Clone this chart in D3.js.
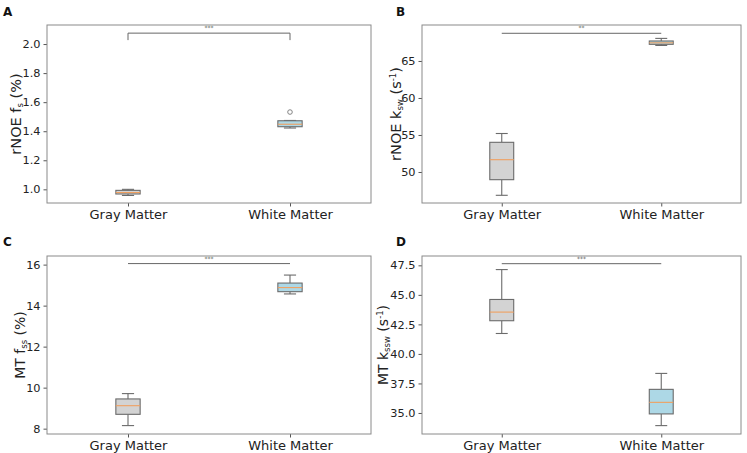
<!DOCTYPE html>
<html><head><meta charset="utf-8">
<script src="https://cdn.jsdelivr.net/npm/d3@7"></script>
<style>body{margin:0;background:#fff}svg{display:block}text{font-family:"DejaVu Sans",sans-serif}</style>
</head><body><svg id="c" width="747" height="453"></svg>
<script>
// ---- data ----
const categories = ["Gray Matter", "White Matter"];
// box stats: [whisker low, q1, median, q3, whisker high]
const rnoeFsGray  = [0.958, 0.968, 0.978, 0.993, 1.000];
const rnoeFsWhite = [1.422, 1.431, 1.448, 1.472, 1.474];
const rnoeFsOutliers = [[1, 1.532]]; // [category index, value]
const rnoeKswGray  = [46.85, 48.96, 51.66, 54.01, 55.2];
const rnoeKswWhite = [67.1, 67.25, 67.45, 67.7, 68.05];
const mtFssGray  = [8.15, 8.70, 9.12, 9.45, 9.71];
const mtFssWhite = [14.57, 14.68, 14.88, 15.10, 15.49];
const mtKsswGray  = [41.73, 42.81, 43.54, 44.61, 47.14];
const mtKsswWhite = [33.93, 34.92, 35.90, 37.00, 38.35];
const ticksA = [1.0, 1.2, 1.4, 1.6, 1.8, 2.0];
const ticksB = [50, 55, 60, 65];
const ticksC = [8, 10, 12, 14, 16];
const ticksD = [35.0, 37.5, 40.0, 42.5, 45.0, 47.5];
const limsA = [0.906, 2.131], limsB = [45.81, 69.86], limsC = [7.74, 16.42], limsD = [33.22, 48.29];
// significance: [bar level, tick drop, label]
const sigA = [2.075, 0.048, "***"];
const sigB = [68.74, 0, "**"];
const sigC = [16.05, 0, "***"];
const sigD = [47.64, 0, "***"];
const boxFills = ["#d3d3d3", "#add8e6"];

const svg = d3.select("#c");

function panel(o) {
  const g = svg.append("g");
  const x = d3.scaleLinear().domain([0.5, 2.5]).range([o.x0, o.x1]);
  const y = d3.scaleLinear().domain(o.lims).range([o.y1, o.y0]);
  const bw = x(1.075) - x(0.925);
  const cw = bw / 2;
  [o.gray, o.white].forEach((s, i) => {
    const cx = x(i + 1);
    const stroke = "#6b6b6b";
    g.append("line").attr("x1", cx).attr("x2", cx).attr("y1", y(s[0])).attr("y2", y(s[1])).attr("stroke", stroke).attr("stroke-width", 1.1);
    g.append("line").attr("x1", cx).attr("x2", cx).attr("y1", y(s[3])).attr("y2", y(s[4])).attr("stroke", stroke).attr("stroke-width", 1.1);
    g.append("line").attr("x1", cx - cw / 2).attr("x2", cx + cw / 2).attr("y1", y(s[0])).attr("y2", y(s[0])).attr("stroke", stroke).attr("stroke-width", 1.1);
    g.append("line").attr("x1", cx - cw / 2).attr("x2", cx + cw / 2).attr("y1", y(s[4])).attr("y2", y(s[4])).attr("stroke", stroke).attr("stroke-width", 1.1);
    g.append("rect").attr("x", cx - bw / 2).attr("width", bw).attr("y", y(s[3])).attr("height", Math.max(0.5, y(s[1]) - y(s[3])))
      .attr("fill", boxFills[i]).attr("stroke", stroke).attr("stroke-width", 1.1);
    g.append("line").attr("x1", cx - bw / 2).attr("x2", cx + bw / 2).attr("y1", y(s[2])).attr("y2", y(s[2])).attr("stroke", "#f0a060").attr("stroke-width", 1.1);
  });
  (o.outliers || []).forEach(p => {
    g.append("circle").attr("cx", x(p[0] + 1)).attr("cy", y(p[1])).attr("r", 2.3).attr("fill", "none").attr("stroke", "#777").attr("stroke-width", 0.9);
  });
  const sy = y(o.sig[0]);
  const path = d3.path();
  path.moveTo(x(1), y(o.sig[0] - o.sig[1]));
  path.lineTo(x(1), sy); path.lineTo(x(2), sy); path.lineTo(x(2), y(o.sig[0] - o.sig[1]));
  g.append("path").attr("d", path.toString()).attr("fill", "none").attr("stroke", "#666").attr("stroke-width", 1);
  g.append("text").attr("x", (x(1) + x(2)) / 2).attr("y", sy - 3).attr("text-anchor", "middle").attr("font-size", 6).attr("fill", "#555").text(o.sig[2]);
  const ya = d3.axisLeft(y).tickValues(o.ticks).tickSize(3.5).tickPadding(3).tickFormat(o.fmt);
  const ga = g.append("g").attr("transform", `translate(${o.x0},0)`).call(ya);
  ga.select(".domain").remove();
  ga.selectAll("line").attr("stroke", "#555");
  ga.selectAll("text").attr("font-size", 11.3).attr("fill", "#222");
  const xa = d3.axisBottom(x).tickValues([1, 2]).tickSize(3.5).tickPadding(3).tickFormat(d => categories[d - 1]);
  const gx = g.append("g").attr("transform", `translate(0,${o.y1})`).call(xa);
  gx.select(".domain").remove();
  gx.selectAll("line").attr("stroke", "#555");
  gx.selectAll("text").attr("font-size", 13).attr("fill", "#222");
  g.append("rect").attr("x", o.x0).attr("y", o.y0).attr("width", o.x1 - o.x0).attr("height", o.y1 - o.y0)
    .attr("fill", "none").attr("stroke", "#8a8a8a").attr("stroke-width", 1);
  const t = g.append("text").attr("transform", `translate(${o.lx},${(o.y0 + o.y1) / 2}) rotate(-90)`)
    .attr("text-anchor", "middle").attr("font-size", o.ls).attr("fill", "#222");
  o.label.forEach(part => {
    const ts = t.append("tspan").text(part[0]);
    if (part[1] === "sub") ts.attr("font-size", 8.5).attr("dy", 2);
    else if (part[1] === "sup") ts.attr("font-size", 8.5).attr("dy", -5.5);
    else if (part[1] === "reset") ts.attr("dy", part[2]);
  });
  svg.append("text").attr("x", o.px).attr("y", o.py).attr("font-size", 12).attr("font-weight", "bold").attr("fill", "#111").text(o.letter);
}

panel({x0: 47, x1: 371, y0: 25, y1: 203, lims: limsA, ticks: ticksA, fmt: d3.format(".1f"),
  gray: rnoeFsGray, white: rnoeFsWhite, outliers: rnoeFsOutliers, sig: sigA, lx: 21, ls: 14.5,
  label: [["rNOE f"], ["s", "sub"], [" (%)", "reset", -2]], letter: "A", px: 3, py: 16});
panel({x0: 422, x1: 741, y0: 25, y1: 203, lims: limsB, ticks: ticksB, fmt: d3.format("d"),
  gray: rnoeKswGray, white: rnoeKswWhite, sig: sigB, lx: 401, ls: 14.5,
  label: [["rNOE k"], ["sw", "sub"], [" (s", "reset", -2], ["-1", "sup"], [")", "reset", 5.5]], letter: "B", px: 396, py: 16});
panel({x0: 47, x1: 371, y0: 256, y1: 434, lims: limsC, ticks: ticksC, fmt: d3.format("d"),
  gray: mtFssGray, white: mtFssWhite, sig: sigC, lx: 25, ls: 14,
  label: [["MT f"], ["ss", "sub"], [" (%)", "reset", -2]], letter: "C", px: 3, py: 246});
panel({x0: 422, x1: 741, y0: 256, y1: 434, lims: limsD, ticks: ticksD, fmt: d3.format(".1f"),
  gray: mtKsswGray, white: mtKsswWhite, sig: sigD, lx: 388, ls: 14,
  label: [["MT k"], ["ssw", "sub"], [" (s", "reset", -2], ["-1", "sup"], [")", "reset", 5.5]], letter: "D", px: 396, py: 246});
</script></body></html>
